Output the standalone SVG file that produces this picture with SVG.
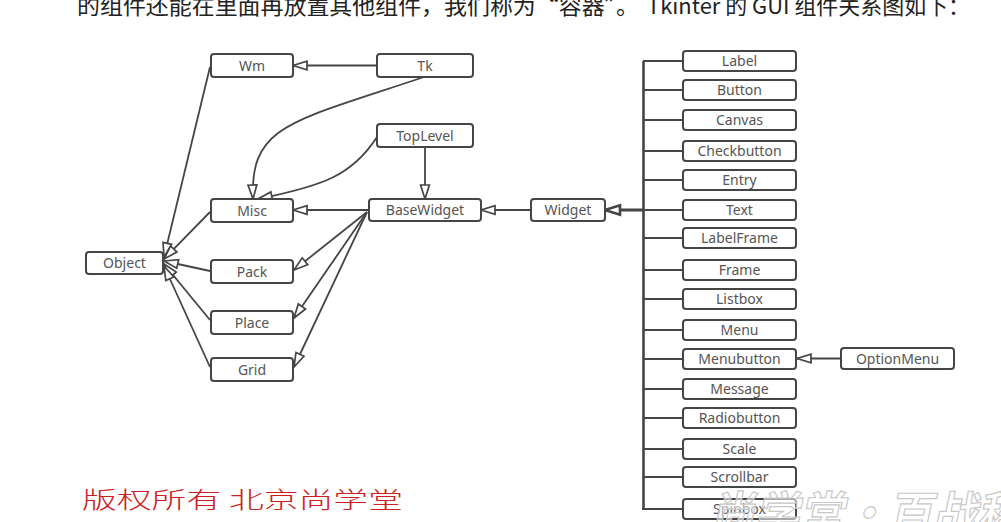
<svg xmlns="http://www.w3.org/2000/svg" width="1001" height="522" viewBox="0 0 1001 522">
<style>
.box{fill:#fff;stroke:#454545;stroke-width:2}
.lbl{font-family:"Noto Sans","Open Sans",sans-serif;font-size:14px;fill:#555;text-anchor:middle}
.ln{fill:none;stroke:#454545;stroke-width:1.8}
.trunk{fill:none;stroke:#454545;stroke-width:2.6}
</style>
<defs>
<marker id="tri" markerWidth="18" markerHeight="12" refX="15" refY="6" orient="auto" markerUnits="userSpaceOnUse" overflow="visible">
<path d="M15,6 L1,1.6 L1,10.4 Z" fill="#fff" stroke="#454545" stroke-width="1.7" stroke-linejoin="miter"/>
</marker>
<marker id="triB" markerWidth="20" markerHeight="14" refX="17" refY="7" orient="auto" markerUnits="userSpaceOnUse" overflow="visible">
<path d="M17,7 L2,2.2 L2,11.8 Z" fill="#fff" stroke="#454545" stroke-width="2.6"/>
</marker>
</defs>
<rect width="1001" height="522" fill="#fff"/>

<text x="77" y="14" font-family="'Noto Sans CJK SC',sans-serif" font-size="22" fill="#222" textLength="562" lengthAdjust="spacingAndGlyphs">的组件还能在里面再放置其他组件，我们称为“容器”。</text>
<text x="647" y="14" font-family="'Noto Sans CJK SC',sans-serif" font-size="22" fill="#222" textLength="323" lengthAdjust="spacingAndGlyphs">Tkinter 的 GUI 组件关系图如下：</text>

<g id="connectors">
<line class="ln" x1="377" y1="65.5" x2="293" y2="65.5" marker-end="url(#tri)"/>
<path class="ln" d="M424,77 C290,122 250,125 253,199" marker-end="url(#tri)"/>
<path class="ln" d="M377,137 C352,176 322,186 258,199" marker-end="url(#tri)"/>
<line class="ln" x1="425" y1="147" x2="425" y2="199" marker-end="url(#tri)"/>
<line class="ln" x1="369" y1="210" x2="293" y2="210" marker-end="url(#tri)"/>
<line class="ln" x1="367" y1="212" x2="294" y2="270" marker-end="url(#tri)"/>
<line class="ln" x1="367" y1="212" x2="294" y2="318" marker-end="url(#tri)"/>
<line class="ln" x1="367" y1="212" x2="294" y2="367" marker-end="url(#tri)"/>
<line class="ln" x1="531" y1="210" x2="481" y2="210" marker-end="url(#tri)"/>
<line class="ln" x1="210" y1="67" x2="164" y2="257" marker-end="url(#tri)"/>
<line class="ln" x1="210" y1="212" x2="164" y2="259" marker-end="url(#tri)"/>
<line class="ln" x1="210" y1="271" x2="164" y2="261" marker-end="url(#tri)"/>
<line class="ln" x1="210" y1="320" x2="164" y2="264" marker-end="url(#tri)"/>
<line class="ln" x1="210" y1="367" x2="164" y2="266" marker-end="url(#tri)"/>
<line class="trunk" x1="643.5" y1="61" x2="643.5" y2="509"/>
<line x1="643.5" y1="210" x2="605" y2="210" stroke="#454545" stroke-width="3" marker-end="url(#triB)"/>
<g class="ln">
<line x1="643" y1="61" x2="683" y2="61"/>
<line x1="643" y1="90" x2="683" y2="90"/>
<line x1="643" y1="120" x2="683" y2="120"/>
<line x1="643" y1="151" x2="683" y2="151"/>
<line x1="643" y1="180" x2="683" y2="180"/>
<line x1="643" y1="210" x2="683" y2="210"/>
<line x1="643" y1="238" x2="683" y2="238"/>
<line x1="643" y1="270" x2="683" y2="270"/>
<line x1="643" y1="299" x2="683" y2="299"/>
<line x1="643" y1="330" x2="683" y2="330"/>
<line x1="643" y1="359" x2="683" y2="359"/>
<line x1="643" y1="389" x2="683" y2="389"/>
<line x1="643" y1="418" x2="683" y2="418"/>
<line x1="643" y1="449" x2="683" y2="449"/>
<line x1="643" y1="477" x2="683" y2="477"/>
<line x1="642" y1="509" x2="683" y2="509"/>
</g>
<line class="ln" x1="841" y1="358.5" x2="797" y2="358.5" marker-end="url(#tri)"/>
</g>

<g id="Wm"><rect class="box" x="211" y="54" width="82" height="23" rx="3"/><text class="lbl" x="252" y="70.5">Wm</text></g>
<g id="Tk"><rect class="box" x="377" y="54" width="96" height="23" rx="3"/><text class="lbl" x="425" y="70.5">Tk</text></g>
<g id="TopLevel"><rect class="box" x="377" y="124" width="96" height="23" rx="3"/><text class="lbl" x="425" y="140.5">TopLevel</text></g>
<g id="Misc"><rect class="box" x="211" y="199" width="82" height="23" rx="3"/><text class="lbl" x="252" y="215.5">Misc</text></g>
<g id="BaseWidget"><rect class="box" x="369" y="199" width="112" height="22" rx="3"/><text class="lbl" x="425" y="215">BaseWidget</text></g>
<g id="Object"><rect class="box" x="86" y="252" width="77" height="22" rx="3"/><text class="lbl" x="124.5" y="268">Object</text></g>
<g id="Pack"><rect class="box" x="211" y="260" width="82" height="23" rx="3"/><text class="lbl" x="252" y="276.5">Pack</text></g>
<g id="Place"><rect class="box" x="211" y="311" width="82" height="23" rx="3"/><text class="lbl" x="252" y="327.5">Place</text></g>
<g id="Grid"><rect class="box" x="211" y="358" width="82" height="23" rx="3"/><text class="lbl" x="252" y="374.5">Grid</text></g>
<g id="Widget"><rect class="box" x="531" y="199" width="74" height="22" rx="3"/><text class="lbl" x="568" y="215">Widget</text></g>
<g id="OptionMenu"><rect class="box" x="841" y="348" width="113" height="21" rx="3"/><text class="lbl" x="897.5" y="363.5">OptionMenu</text></g>

<g id="Label"><rect class="box" x="683" y="51" width="113" height="20" rx="3"/><text class="lbl" x="739.5" y="66">Label</text></g>
<g id="Button"><rect class="box" x="683" y="80" width="113" height="20" rx="3"/><text class="lbl" x="739.5" y="95">Button</text></g>
<g id="Canvas"><rect class="box" x="683" y="110" width="113" height="20" rx="3"/><text class="lbl" x="739.5" y="125">Canvas</text></g>
<g id="Checkbutton"><rect class="box" x="683" y="141" width="113" height="20" rx="3"/><text class="lbl" x="739.5" y="156">Checkbutton</text></g>
<g id="Entry"><rect class="box" x="683" y="170" width="113" height="20" rx="3"/><text class="lbl" x="739.5" y="185">Entry</text></g>
<g id="Text"><rect class="box" x="683" y="200" width="113" height="20" rx="3"/><text class="lbl" x="739.5" y="215">Text</text></g>
<g id="LabelFrame"><rect class="box" x="683" y="228" width="113" height="20" rx="3"/><text class="lbl" x="739.5" y="243">LabelFrame</text></g>
<g id="Frame"><rect class="box" x="683" y="260" width="113" height="20" rx="3"/><text class="lbl" x="739.5" y="275">Frame</text></g>
<g id="Listbox"><rect class="box" x="683" y="289" width="113" height="20" rx="3"/><text class="lbl" x="739.5" y="304">Listbox</text></g>
<g id="Menu"><rect class="box" x="683" y="320" width="113" height="20" rx="3"/><text class="lbl" x="739.5" y="335">Menu</text></g>
<g id="Menubutton"><rect class="box" x="683" y="349" width="113" height="20" rx="3"/><text class="lbl" x="739.5" y="364">Menubutton</text></g>
<g id="Message"><rect class="box" x="683" y="379" width="113" height="20" rx="3"/><text class="lbl" x="739.5" y="394">Message</text></g>
<g id="Radiobutton"><rect class="box" x="683" y="408" width="113" height="20" rx="3"/><text class="lbl" x="739.5" y="423">Radiobutton</text></g>
<g id="Scale"><rect class="box" x="683" y="439" width="113" height="20" rx="3"/><text class="lbl" x="739.5" y="454">Scale</text></g>
<g id="Scrollbar"><rect class="box" x="683" y="467" width="113" height="20" rx="3"/><text class="lbl" x="739.5" y="482">Scrollbar</text></g>
<g id="Spinbox"><rect class="box" x="683" y="499" width="113" height="20" rx="3"/><text class="lbl" x="739.5" y="514">Spinbox</text></g>

<text x="82" y="508" font-family="'Noto Sans CJK SC',sans-serif" font-weight="300" font-size="23" fill="#cc1f24" textLength="321" lengthAdjust="spacingAndGlyphs">版权所有 北京尚学堂</text>

<text x="712" y="530" transform="skewX(-12) translate(111,0)" font-family="'Noto Sans CJK SC',sans-serif" font-weight="bold" font-size="46" fill="#fff" fill-opacity="0.55" stroke="#c8c8c8" stroke-width="1.2" textLength="400" lengthAdjust="spacingAndGlyphs">尚学堂·百战程序员</text>
</svg>
